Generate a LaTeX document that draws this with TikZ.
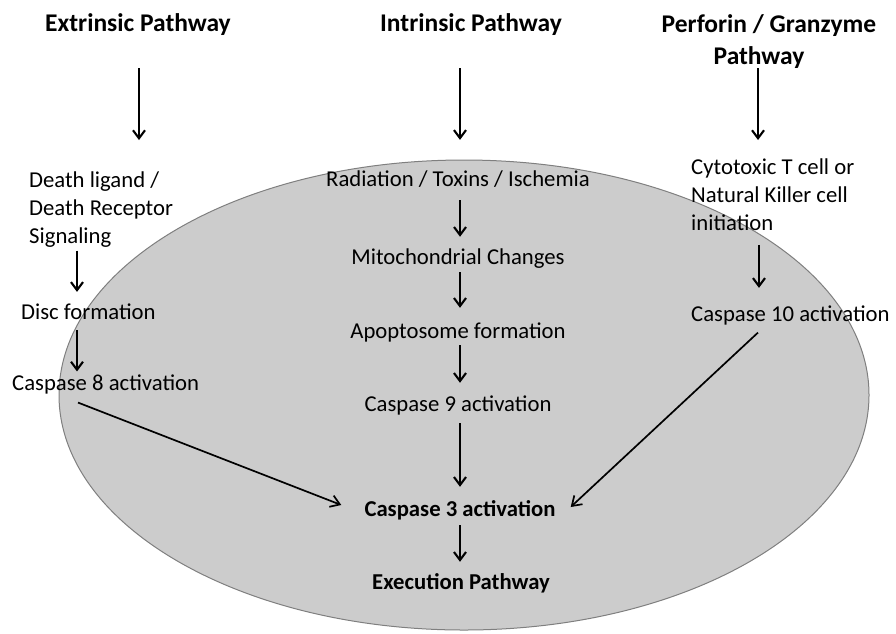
\documentclass[tikz,border=0pt]{standalone}
\usepackage{fontspec}
\setmainfont{Carlito}
\usetikzlibrary{arrows.meta,calc}
\definecolor{ellfill}{HTML}{CCCCCC}
\definecolor{ellline}{HTML}{7F7F7F}
\begin{document}
\begin{tikzpicture}[x=1pt,y=-1pt,
  body/.style={inner sep=0pt, font=\fontsize{22.7}{27.5}\selectfont, text height=17pt, text depth=5.7pt},
  bodybf/.style={body, font=\fontsize{22.7}{27.5}\selectfont\bfseries},
  bodyml/.style={inner sep=0pt, font=\fontsize{22.7}{27.8}\selectfont, align=left},
  title/.style={inner sep=0pt, font=\fontsize{25.5}{32}\selectfont\bfseries, align=center},
  arr/.style={line width=2.1pt, -{Straight Barb[length=8pt,width=12pt]}},
  diag/.style={line width=1.7pt, -{Straight Barb[length=9pt,width=12pt]}},
  ell/.style={fill=ellfill, draw=ellline, line width=1pt}]
\useasboundingbox (0,0) rectangle (896,633);
\draw[ell] (464,395) ellipse [x radius=405pt, y radius=235pt];

% titles
\node[title, text height=18pt, text depth=6pt] (tE) at (138,25) {Extrinsic Pathway};
\node[title, text height=18pt, text depth=6pt] (tI) at (471,25) {Intrinsic Pathway};
\node[title, anchor=north] (tP) at (769,14) {Perforin / Granzyme\\Pathway\kern20pt};

% extrinsic column
\node[bodyml, anchor=north west] (dl) at (29,172) {Death ligand /\\Death Receptor\\Signaling};
\node[body, anchor=west] (disc) at (21,314) {Disc formation};
\node[body, anchor=west] (c8) at (12,385) {Caspase 8 activation};

% intrinsic column
\node[body] (rad) at (458,181) {Radiation / Toxins / Ischemia};
\node[body] (mito) at (458,259) {Mitochondrial Changes};
\node[body] (apo) at (458,333) {Apoptosome formation};
\node[body] (c9) at (458,406) {Caspase 9 activation};
\node[bodybf] (c3) at (460,511) {Caspase 3 activation};
\node[bodybf] (exe) at (461,584) {Execution Pathway};

% perforin column
\node[bodyml, anchor=north west] (ctl) at (691,159) {Cytotoxic T cell or\\Natural Killer cell\\initiation};
\node[body, anchor=west] (c10) at (691,316) {Caspase 10 activation};

\coordinate (xE) at (139,0);
\coordinate (xI) at (460,0);
\coordinate (xP) at (758,0);
\coordinate (xL) at (77,0);
\coordinate (xR) at (759,0);

% arrows
\draw[arr, shorten <=31pt, shorten >=32pt] (tE.south -| xE) -- (dl.north -| xE);
\draw[arr, shorten <=31pt, shorten >=29.6pt] (tI.south -| xI) -- (rad.north -| xI);
\draw[arr, shorten <=0pt, shorten >=19pt] (tP.south -| xP) -- (ctl.north -| xP);

\draw[arr, shorten <=3pt, shorten >=10.6pt] (dl.south -| xL) -- (disc.north -| xL);
\draw[arr, shorten <=4.6pt, shorten >=2pt] (disc.south -| xL) -- (c8.north -| xL);

\draw[arr, shorten <=7.6pt, shorten >=10.7pt] (rad.south -| xI) -- (mito.north -| xI);
\draw[arr, shorten <=1.6pt, shorten >=13.7pt] (mito.south -| xI) -- (apo.north -| xI);
\draw[arr, shorten <=0.6pt, shorten >=11.7pt] (apo.south -| xI) -- (c9.north -| xI);
\draw[arr, shorten <=5.6pt, shorten >=12.7pt] (c9.south -| xI) -- (c3.north -| xI);
\draw[arr, shorten <=2.6pt, shorten >=10.7pt] (c3.south -| xI) -- (exe.north -| xI);

\draw[arr, shorten <=14pt, shorten >=16.6pt] (ctl.south -| xR) -- (c10.north -| xR);

\draw[diag] ($(c8.south west)+(66,6)$) -- ($(c3.west)+(-23,-6)$);
\draw[diag] ($(c10.south west)+(67,5)$) -- ($(c3.east)+(15,-4)$);
\end{tikzpicture}
\end{document}
